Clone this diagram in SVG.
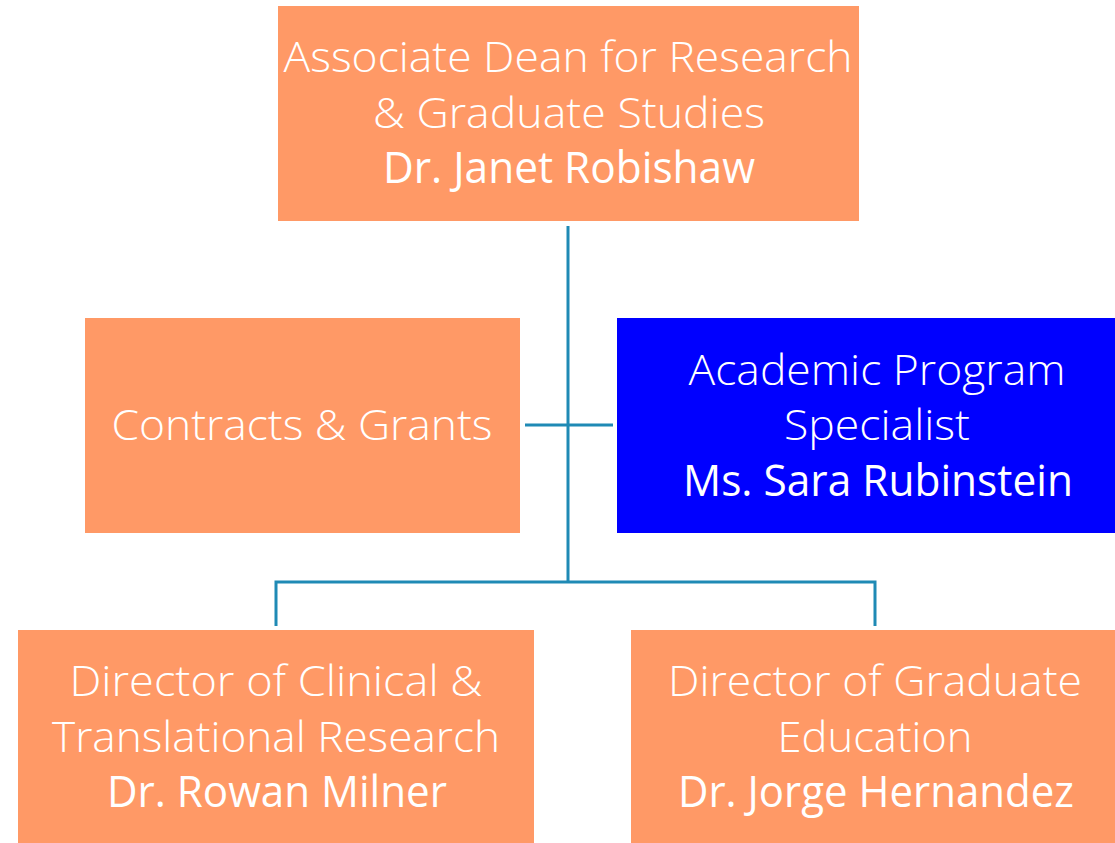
<svg xmlns="http://www.w3.org/2000/svg" width="1115" height="843" viewBox="0 0 1115 843">
<style>
.box{fill:#FF9966}
.blue{fill:#0000FF}
.t{font-family:"Open Sans","Liberation Sans",sans-serif;font-size:43px;fill:#FFFFFF;text-anchor:middle}
.l{font-weight:300}
.n{font-weight:400}
.c{stroke:#1F8AB5;stroke-width:3;fill:none}
</style>
<rect width="1115" height="843" fill="#FFFFFF"/>
<g id="connectors">
<line class="c" x1="568" y1="226" x2="568" y2="582"/>
<line class="c" x1="525" y1="425" x2="613" y2="425"/>
<polyline class="c" points="276,626 276,582 875,582 875,626"/>
</g>
<g id="dean">
<rect class="box" x="278" y="6" width="581" height="215"/>
<text class="t l" x="568" y="72" textLength="569" lengthAdjust="spacingAndGlyphs">Associate Dean for Research</text>
<text class="t l" x="569" y="128" textLength="392" lengthAdjust="spacingAndGlyphs">&amp; Graduate Studies</text>
<text class="t n" x="569" y="183" textLength="372" lengthAdjust="spacingAndGlyphs">Dr. Janet Robishaw</text>
</g>
<g id="contracts">
<rect class="box" x="85" y="318" width="435" height="215"/>
<text class="t l" x="302" y="440" textLength="381" lengthAdjust="spacingAndGlyphs">Contracts &amp; Grants</text>
</g>
<g id="specialist">
<rect class="blue" x="617" y="318" width="498" height="215"/>
<text class="t l" x="877" y="385" textLength="377" lengthAdjust="spacingAndGlyphs">Academic Program</text>
<text class="t l" x="877" y="440" textLength="186" lengthAdjust="spacingAndGlyphs">Specialist</text>
<text class="t n" x="878" y="496" textLength="390" lengthAdjust="spacingAndGlyphs">Ms. Sara Rubinstein</text>
</g>
<g id="clinical">
<rect class="box" x="18" y="630" width="516" height="213"/>
<text class="t l" x="276" y="696" textLength="413" lengthAdjust="spacingAndGlyphs">Director of Clinical &amp;</text>
<text class="t l" x="276" y="752" textLength="448" lengthAdjust="spacingAndGlyphs">Translational Research</text>
<text class="t n" x="277" y="807" textLength="340" lengthAdjust="spacingAndGlyphs">Dr. Rowan Milner</text>
</g>
<g id="graduate">
<rect class="box" x="631" y="630" width="484" height="213"/>
<text class="t l" x="875" y="696" textLength="414" lengthAdjust="spacingAndGlyphs">Director of Graduate</text>
<text class="t l" x="875" y="752" textLength="195" lengthAdjust="spacingAndGlyphs">Education</text>
<text class="t n" x="876" y="807" textLength="396" lengthAdjust="spacingAndGlyphs">Dr. Jorge Hernandez</text>
</g>
</svg>
